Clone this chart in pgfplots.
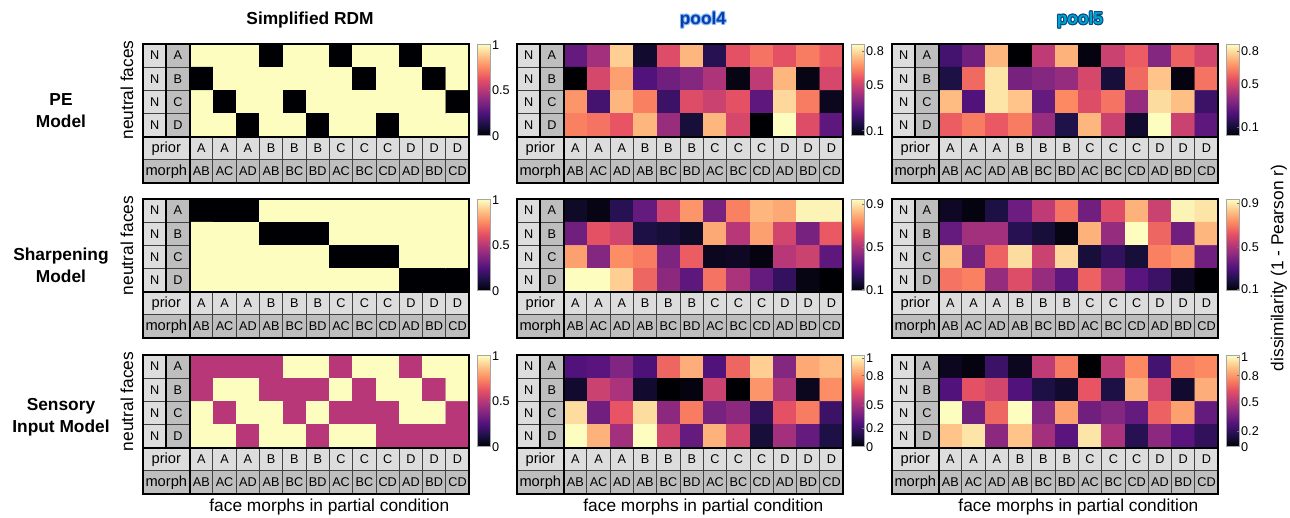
\documentclass[border=0pt]{standalone}
\usepackage{pgfplots}
\pgfplotsset{compat=1.18}
\usepackage{pgfplotstable}
\usepackage{fontspec}
\setmainfont{Liberation Sans}
\pgfplotsset{colormap={magma}{rgb255(0cm)=(0,0,4) rgb255(1cm)=(29,17,71) rgb255(2cm)=(81,18,124) rgb255(3cm)=(130,38,129) rgb255(4cm)=(183,55,121) rgb255(5cm)=(231,82,99) rgb255(6cm)=(252,137,97) rgb255(7cm)=(254,194,135) rgb255(8cm)=(252,253,191)}}
\definecolor{cellA}{RGB}{221,221,221}
\definecolor{cellB}{RGB}{190,190,190}
\definecolor{p4txt}{RGB}{10,60,170}
\definecolor{p4glow}{RGB}{130,185,245}
\definecolor{p5txt}{RGB}{0,165,205}
\definecolor{p5glow}{RGB}{10,70,130}
\newcommand\cellfont{\fontsize{9.5}{11}\selectfont}
\newcommand\tabfont{\fontsize{11}{13}\selectfont}
\newcommand\cbfont{\fontsize{9.5}{11}\selectfont}
\newcommand\lblfont{\fontsize{13}{16.5}\selectfont}

% ---------------- data (cell colour level, 0..1 along the colour bar) ----------------
\pgfplotstableread[row sep=\\]{
x y c\\
0 3 1\\ 1 3 1\\ 2 3 1\\ 3 3 0\\ 4 3 1\\ 5 3 1\\ 6 3 0\\ 7 3 1\\ 8 3 1\\ 9 3 0\\ 10 3 1\\ 11 3 1\\
0 2 0\\ 1 2 1\\ 2 2 1\\ 3 2 1\\ 4 2 1\\ 5 2 1\\ 6 2 1\\ 7 2 0\\ 8 2 1\\ 9 2 1\\ 10 2 0\\ 11 2 1\\
0 1 1\\ 1 1 0\\ 2 1 1\\ 3 1 1\\ 4 1 0\\ 5 1 1\\ 6 1 1\\ 7 1 1\\ 8 1 1\\ 9 1 1\\ 10 1 1\\ 11 1 0\\
0 0 1\\ 1 0 1\\ 2 0 0\\ 3 0 1\\ 4 0 1\\ 5 0 0\\ 6 0 1\\ 7 0 1\\ 8 0 0\\ 9 0 1\\ 10 0 1\\ 11 0 1\\
}\tPEsim
\pgfplotstableread[row sep=\\]{
x y c\\
0 3 .30\\ 1 3 .45\\ 2 3 .90\\ 3 3 .08\\ 4 3 .60\\ 5 3 .85\\ 6 3 .15\\ 7 3 .62\\ 8 3 .70\\ 9 3 .62\\ 10 3 .72\\ 11 3 .65\\
0 2 .00\\ 1 2 .58\\ 2 2 .80\\ 3 2 .25\\ 4 2 .33\\ 5 2 .38\\ 6 2 .48\\ 7 2 .03\\ 8 2 .52\\ 9 2 .85\\ 10 2 .03\\ 11 2 .58\\
0 1 .78\\ 1 1 .22\\ 2 1 .85\\ 3 1 .73\\ 4 1 .20\\ 5 1 .60\\ 6 1 .55\\ 7 1 .62\\ 8 1 .28\\ 9 1 .92\\ 10 1 .72\\ 11 1 .05\\
0 0 .73\\ 1 0 .70\\ 2 0 .63\\ 3 0 .85\\ 4 0 .43\\ 5 0 .10\\ 6 0 .85\\ 7 0 .58\\ 8 0 .00\\ 9 0 1.0\\ 10 0 .60\\ 11 0 .28\\
}\tPEpa
\pgfplotstableread[row sep=\\]{
x y c\\
0 3 .22\\ 1 3 .33\\ 2 3 .85\\ 3 3 .00\\ 4 3 .52\\ 5 3 .84\\ 6 3 .02\\ 7 3 .55\\ 8 3 .65\\ 9 3 .38\\ 10 3 .66\\ 11 3 .57\\
0 2 .12\\ 1 2 .68\\ 2 2 .95\\ 3 2 .35\\ 4 2 .38\\ 5 2 .42\\ 6 2 .58\\ 7 2 .10\\ 8 2 .68\\ 9 2 .88\\ 10 2 .02\\ 11 2 .70\\
0 1 .86\\ 1 1 .25\\ 2 1 .95\\ 3 1 .88\\ 4 1 .30\\ 5 1 .75\\ 6 1 .60\\ 7 1 .70\\ 8 1 .42\\ 9 1 .93\\ 10 1 .87\\ 11 1 .20\\
0 0 .65\\ 1 0 .72\\ 2 0 .64\\ 3 0 .72\\ 4 0 .43\\ 5 0 .13\\ 6 0 .85\\ 7 0 .55\\ 8 0 .08\\ 9 0 1.0\\ 10 0 .55\\ 11 0 .28\\
}\tPEpb
\pgfplotstableread[row sep=\\]{
x y c\\
0 3 0\\ 1 3 0\\ 2 3 0\\ 3 3 1\\ 4 3 1\\ 5 3 1\\ 6 3 1\\ 7 3 1\\ 8 3 1\\ 9 3 1\\ 10 3 1\\ 11 3 1\\
0 2 1\\ 1 2 1\\ 2 2 1\\ 3 2 0\\ 4 2 0\\ 5 2 0\\ 6 2 1\\ 7 2 1\\ 8 2 1\\ 9 2 1\\ 10 2 1\\ 11 2 1\\
0 1 1\\ 1 1 1\\ 2 1 1\\ 3 1 1\\ 4 1 1\\ 5 1 1\\ 6 1 0\\ 7 1 0\\ 8 1 0\\ 9 1 1\\ 10 1 1\\ 11 1 1\\
0 0 1\\ 1 0 1\\ 2 0 1\\ 3 0 1\\ 4 0 1\\ 5 0 1\\ 6 0 1\\ 7 0 1\\ 8 0 1\\ 9 0 0\\ 10 0 0\\ 11 0 0\\
}\tSHsim
\pgfplotstableread[row sep=\\]{
x y c\\
0 3 .07\\ 1 3 .03\\ 2 3 .15\\ 3 3 .30\\ 4 3 .57\\ 5 3 .78\\ 6 3 .35\\ 7 3 .73\\ 8 3 .85\\ 9 3 .82\\ 10 3 .98\\ 11 3 .98\\
0 2 .33\\ 1 2 .62\\ 2 2 .57\\ 3 2 .12\\ 4 2 .10\\ 5 2 .07\\ 6 2 .82\\ 7 2 .50\\ 8 2 .80\\ 9 2 .57\\ 10 2 .35\\ 11 2 .64\\
0 1 .80\\ 1 1 .38\\ 2 1 .76\\ 3 1 .72\\ 4 1 .36\\ 5 1 .65\\ 6 1 .05\\ 7 1 .06\\ 8 1 .02\\ 9 1 .50\\ 10 1 .55\\ 11 1 .28\\
0 0 1.0\\ 1 0 1.0\\ 2 0 .90\\ 3 0 .67\\ 4 0 .40\\ 5 0 .28\\ 6 0 .70\\ 7 0 .47\\ 8 0 .30\\ 9 0 .18\\ 10 0 .03\\ 11 0 .00\\
}\tSHpa
\pgfplotstableread[row sep=\\]{
x y c\\
0 3 .06\\ 1 3 .02\\ 2 3 .12\\ 3 3 .32\\ 4 3 .52\\ 5 3 .70\\ 6 3 .33\\ 7 3 .60\\ 8 3 .84\\ 9 3 .55\\ 10 3 .98\\ 11 3 .95\\
0 2 .30\\ 1 2 .45\\ 2 2 .45\\ 3 2 .15\\ 4 2 .10\\ 5 2 .03\\ 6 2 .84\\ 7 2 .42\\ 8 2 1.0\\ 9 2 .67\\ 10 2 .33\\ 11 2 .85\\
0 1 .86\\ 1 1 .35\\ 2 1 .66\\ 3 1 .93\\ 4 1 .55\\ 5 1 .92\\ 6 1 .10\\ 7 1 .18\\ 8 1 .10\\ 9 1 .73\\ 10 1 .78\\ 11 1 .33\\
0 0 .70\\ 1 0 .73\\ 2 0 .42\\ 3 0 .60\\ 4 0 .42\\ 5 0 .28\\ 6 0 .66\\ 7 0 .45\\ 8 0 .27\\ 9 0 .20\\ 10 0 .06\\ 11 0 .00\\
}\tSHpb
\pgfplotstableread[row sep=\\]{
x y c\\
0 3 .5\\ 1 3 .5\\ 2 3 .5\\ 3 3 .5\\ 4 3 1\\ 5 3 1\\ 6 3 .5\\ 7 3 1\\ 8 3 1\\ 9 3 .5\\ 10 3 1\\ 11 3 1\\
0 2 .5\\ 1 2 1\\ 2 2 1\\ 3 2 .5\\ 4 2 .5\\ 5 2 .5\\ 6 2 1\\ 7 2 .5\\ 8 2 1\\ 9 2 1\\ 10 2 .5\\ 11 2 1\\
0 1 1\\ 1 1 .5\\ 2 1 1\\ 3 1 1\\ 4 1 .5\\ 5 1 1\\ 6 1 .5\\ 7 1 .5\\ 8 1 .5\\ 9 1 1\\ 10 1 1\\ 11 1 .5\\
0 0 1\\ 1 0 1\\ 2 0 .5\\ 3 0 1\\ 4 0 1\\ 5 0 .5\\ 6 0 1\\ 7 0 1\\ 8 0 .5\\ 9 0 .5\\ 10 0 .5\\ 11 0 .5\\
}\tSEsim
\pgfplotstableread[row sep=\\]{
x y c\\
0 3 .25\\ 1 3 .27\\ 2 3 .37\\ 3 3 .24\\ 4 3 .67\\ 5 3 .83\\ 6 3 .25\\ 7 3 .67\\ 8 3 .90\\ 9 3 .38\\ 10 3 .82\\ 11 3 .86\\
0 2 .08\\ 1 2 .55\\ 2 2 .47\\ 3 2 .08\\ 4 2 .00\\ 5 2 .02\\ 6 2 .55\\ 7 2 .00\\ 8 2 .78\\ 9 2 .48\\ 10 2 .05\\ 11 2 .76\\
0 1 .93\\ 1 1 .33\\ 2 1 .63\\ 3 1 .93\\ 4 1 .40\\ 5 1 .72\\ 6 1 .35\\ 7 1 .40\\ 8 1 .17\\ 9 1 .62\\ 10 1 .72\\ 11 1 .20\\
0 0 1.0\\ 1 0 .84\\ 2 0 .45\\ 3 0 1.0\\ 4 0 .57\\ 5 0 .30\\ 6 0 .84\\ 7 0 .57\\ 8 0 .10\\ 9 0 .45\\ 10 0 .30\\ 11 0 .12\\
}\tSEpa
\pgfplotstableread[row sep=\\]{
x y c\\
0 3 .05\\ 1 3 .02\\ 2 3 .20\\ 3 3 .05\\ 4 3 .52\\ 5 3 .72\\ 6 3 .00\\ 7 3 .52\\ 8 3 .75\\ 9 3 .22\\ 10 3 .72\\ 11 3 .75\\
0 2 .25\\ 1 2 .62\\ 2 2 .57\\ 3 2 .25\\ 4 2 .12\\ 5 2 .08\\ 6 2 .63\\ 7 2 .12\\ 8 2 .83\\ 9 2 .57\\ 10 2 .08\\ 11 2 .83\\
0 1 1.0\\ 1 1 .33\\ 2 1 .67\\ 3 1 1.0\\ 4 1 .38\\ 5 1 .80\\ 6 1 .33\\ 7 1 .38\\ 8 1 .30\\ 9 1 .66\\ 10 1 .80\\ 11 1 .30\\
0 0 .88\\ 1 0 .95\\ 2 0 .40\\ 3 0 .88\\ 4 0 .45\\ 5 0 .27\\ 6 0 .95\\ 7 0 .47\\ 8 0 .15\\ 9 0 .40\\ 10 0 .27\\ 11 0 .17\\
}\tSEpb

\pgfplotsset{hmstyle/.style={anchor=south west, x=17.475pt, y=17.375pt,
  xmin=-2.5, xmax=11.5, ymin=-2.5, ymax=3.5, hide axis, clip=false,
  colormap name=magma, point meta min=0, point meta max=1,
  colorbar, colorbar style={at={(parent axis.north east)}, anchor=north west,
    xshift=-2.25pt, yshift=-0.5pt, width=9.75pt, height=68.25pt,
    axis line style={draw=black!35, line width=0.5pt},
    ytick style={draw=black!55, line width=0.4pt}, major tick length=2pt,
    tick align=inside, ytick pos=right, yticklabel pos=right,
    yticklabel style={font=\cbfont, inner sep=1pt}}}}

\newcommand{\heat}[4]{%
\begin{axis}[hmstyle, at={(#1,#2)}, colorbar style={#4}]
\addplot[matrix plot*, mesh/cols=12, point meta=explicit] table[meta=c]{#3};
\end{axis}}

\newcommand{\decor}[2]{%
\begin{scope}[shift={(#1+43.6875pt,#2+43.4375pt)}, x=17.475pt, y=17.375pt]
  \foreach \j/\L in {3/A,2/B,1/C,0/D}{
    \fill[cellA] (-2.5,\j-0.5) rectangle (-1.5,\j+0.5);
    \fill[cellB] (-1.5,\j-0.5) rectangle (-0.5,\j+0.5);
    \node[font=\cellfont] at (-2,\j) {N};
    \node[font=\cellfont] at (-1,\j) {\L};
  }
  \fill[cellA] (-2.5,-1.5) rectangle (11.5,-0.5);
  \fill[cellB] (-2.5,-2.5) rectangle (11.5,-1.5);
  \node[font=\tabfont] at (-1.5,-1) {prior};
  \node[font=\tabfont] at (-1.5,-2) {morph};
  \foreach \i/\p/\m in {0/A/AB,1/A/AC,2/A/AD,3/B/AB,4/B/BC,5/B/BD,6/C/AC,7/C/BC,8/C/CD,9/D/AD,10/D/BD,11/D/CD}{
    \node[font=\cellfont] at (\i,-1) {\p};
    \node[font=\cellfont] at (\i,-2) {\m};
  }
  \draw[black!75, line width=0.7pt] (-2.5,0.5) -- (-0.5,0.5) (-2.5,1.5) -- (-0.5,1.5) (-2.5,2.5) -- (-0.5,2.5) (-2.5,-1.5) -- (11.5,-1.5);
  \foreach \i in {0,...,10}{\draw[black!75, line width=0.7pt] (\i+0.5,-2.5) -- (\i+0.5,-0.5);}
  \draw[black, line width=1.5pt] (-1.5,-0.5) -- (-1.5,3.5) (-0.5,-2.5) -- (-0.5,3.5) (-2.5,-0.5) -- (11.5,-0.5);
  \draw[black, line width=1.6pt] (-2.5,-2.5) rectangle (11.5,3.5);
\end{scope}}

\newcommand{\glow}[5]{% x, y, text, text colour, glow colour
  \foreach \dx/\dy in {0.7/0,-0.7/0,0/0.7,0/-0.7,0.5/0.5,-0.5/0.5,0.5/-0.5,-0.5/-0.5}{
    \node[font=\bfseries\lblfont, text=#5, xshift=\dx pt, yshift=\dy pt] at (#1,#2) {#3};}
  \node[font=\bfseries\lblfont, text=#4] at (#1,#2) {#3};}

\begin{document}
\begin{tikzpicture}
\useasboundingbox (0,0) rectangle (967.5pt,388.5pt);
% row 1
\heat{107.25pt}{251.25pt}{\tPEsim}{ytick={0,0.5,1}, yticklabels={0,0.5,1}}
\heat{387.75pt}{251.25pt}{\tPEpa}{ytick={0.055,0.55,0.93}, yticklabels={0.1,0.5,0.8}}
\heat{669pt}{251.25pt}{\tPEpb}{ytick={0.09,0.57,0.93}, yticklabels={0.1,0.5,0.8}}
% row 2
\heat{107.25pt}{135pt}{\tSHsim}{ytick={0,0.5,1}, yticklabels={0,0.5,1}}
\heat{387.75pt}{135pt}{\tSHpa}{ytick={0.01,0.48,0.95}, yticklabels={0.1,0.5,0.9}}
\heat{669pt}{135pt}{\tSHpb}{ytick={0.02,0.48,0.96}, yticklabels={0.1,0.5,0.9}}
% row 3
\heat{107.25pt}{18pt}{\tSEsim}{ytick={0,0.5,1}, yticklabels={0,0.5,1}}
\heat{387.75pt}{18pt}{\tSEpa}{ytick={0,0.2,0.46,0.78,0.97}, yticklabels={0,0.2,0.5,0.8,1}}
\heat{669pt}{18pt}{\tSEpb}{ytick={0,0.17,0.49,0.78,0.98}, yticklabels={0,0.2,0.5,0.8,1}}
% table decorations
\decor{107.25pt}{251.25pt}\decor{387.75pt}{251.25pt}\decor{669pt}{251.25pt}
\decor{107.25pt}{135pt}\decor{387.75pt}{135pt}\decor{669pt}{135pt}
\decor{107.25pt}{18pt}\decor{387.75pt}{18pt}\decor{669pt}{18pt}
% titles
\node[font=\bfseries\lblfont] at (232.5pt,373.5pt) {Simplified RDM};
\glow{527.25pt}{373.5pt}{pool4}{p4txt}{p4glow}
\glow{810pt}{373.5pt}{pool5}{p5txt}{p5glow}
% row labels
\node[font=\bfseries\lblfont, align=center] at (45.75pt,305.25pt) {PE\\Model};
\node[font=\bfseries\lblfont, align=center] at (45.75pt,189.75pt) {Sharpening\\Model};
\node[font=\bfseries\lblfont, align=center] at (45.75pt,75.75pt) {Sensory\\Input Model};
\foreach \yy in {321pt,204.4pt,87.4pt}{\node[rotate=90, font=\lblfont] at (95.25pt,\yy) {neutral faces};}
\foreach \xx in {247pt,527.5pt,808.8pt}{\node[font=\lblfont] at (\xx,8pt) {face morphs in partial condition};}
\node[rotate=90, font=\lblfont] at (959.25pt,187.5pt) {dissimilarity (1 - Pearson r)};
\end{tikzpicture}
\end{document}
